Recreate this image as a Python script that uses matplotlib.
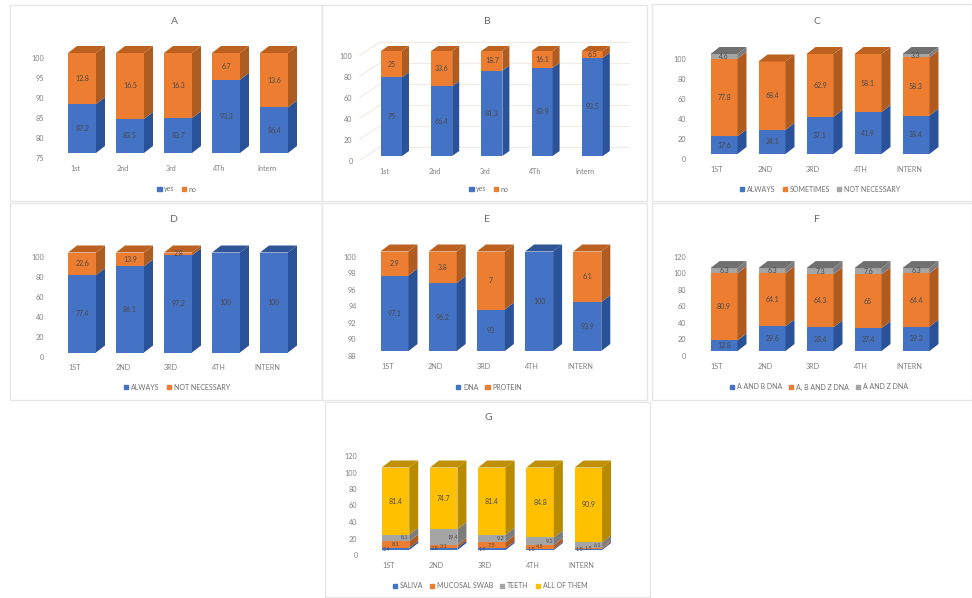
import matplotlib
matplotlib.use("Agg")
import matplotlib.pyplot as plt
from matplotlib.patches import Patch, Rectangle
from matplotlib.transforms import ScaledTranslation

W, H = 972, 598
BLUE = ("#4472C4", "#2A5298", "#2F5597")
ORANGE = ("#ED7D31", "#B05C20", "#BC611F")
GREY = ("#A5A5A5", "#7C7C7C", "#707070")
GOLD = ("#FFC000", "#B88A00", "#C09000")

lower_years = ["1st", "2nd", "3rd", "4Th", "Intern"]
upper_years = ["1ST", "2ND", "3RD", "4TH", "INTERN"]

a_yes = [87.2, 83.5, 83.7, 93.3, 86.4]
a_no = [12.8, 16.5, 16.3, 6.7, 13.6]

b_yes = [75, 66.4, 81.3, 83.9, 93.5]
b_no = [25, 33.6, 18.7, 16.1, 6.5]

c_always = [17.6, 24.1, 37.1, 41.9, 38.4]
c_sometimes = [77.8, 68.4, 62.9, 58.1, 58.3]
c_not_necessary = [4.6, 0, 0, 0, 3.3]

d_always = [77.4, 86.1, 97.2, 100, 100]
d_not_necessary = [22.6, 13.9, 2.8, 0, 0]

e_dna = [97.1, 96.2, 93, 100, 93.9]
e_protein = [2.9, 3.8, 7, 0, 6.1]

f_ab = [12.8, 29.6, 28.4, 27.4, 29.3]
f_abz = [80.9, 64.1, 64.3, 65, 64.4]
f_az = [6.3, 6.3, 7.3, 7.6, 6.3]

g_saliva = [2.4, 2.8, 1.9, 1.5, 1.5]
g_swab = [8.1, 3.1, 7.5, 4.5, 1.5]
g_teeth = [8.1, 19.4, 9.2, 9.2, 6.1]
g_all = [81.4, 74.7, 81.4, 84.8, 90.9]

ticks_a = [75, 80, 85, 90, 95, 100]
ticks_100 = [0, 20, 40, 60, 80, 100]
ticks_e = [88, 90, 92, 94, 96, 98, 100]
ticks_120 = [0, 20, 40, 60, 80, 100, 120]

plt.rcParams["font.family"] = ["Lato", "DejaVu Sans"]

fig = plt.figure(figsize=(W / 100, H / 100), dpi=100, facecolor="white")


def frame(left, top, right, bottom):
    fig.add_artist(Rectangle((left / W, 1 - bottom / H), (right - left) / W, (bottom - top) / H,
                             transform=fig.transFigure, fill=False, ec="#E6E6E6", lw=1))


def panel(title, title_x, title_y, center0, step, width, y_bottom, y_top, ylim, ticks, cats,
          series, names, colors, depth, legend_xy, walls=False, thin=None):
    left = center0 - step / 2
    ax = fig.add_axes([left / W, 1 - y_bottom / H, 5 * step / W, (y_bottom - y_top) / H])
    ax.patch.set_alpha(0)
    ax.set_xlim(-0.5, 4.5)
    ax.set_ylim(*ylim)
    for s in ax.spines.values():
        s.set_visible(False)

    w = width / step
    dx = depth[0] / step
    dy = depth[1] * (ylim[1] - ylim[0]) / (y_bottom - y_top)

    if walls:
        for t in ticks:
            ax.plot([-0.63, -0.23], [t - 4, t + 8.5], color="#F0EBE3", lw=0.8, clip_on=False, zorder=0)
            ax.plot([-0.23, 4.73], [t + 8.5, t + 8.5], color="#F0EBE3", lw=0.8, clip_on=False, zorder=0)

    x = list(range(5))
    bottoms = [ylim[0]] * 5
    tops = [None] * 5
    for n, (vals, col) in enumerate(zip(series, colors)):
        # the first segment starts at the axis floor, which is not always zero
        heights = [v - (ylim[0] if b == ylim[0] else 0) for v, b in zip(vals, bottoms)]
        bars = ax.bar(x, heights, w, bottom=bottoms, color=col[0], zorder=3)
        labels = ax.bar_label(bars, labels=[f"{v:g}" if v > 0 else "" for v in vals], label_type="center",
                              fontsize=5, color="#4A4A4A", zorder=5)
        # thin stacked bands get smaller labels spread across the bar
        if thin and n < len(thin):
            for lab in labels:
                lab.set_fontsize(4)
                lab.xyann = (thin[n], lab.xyann[1])
        for i, h in enumerate(heights):
            if h <= 0:
                continue
            y0, y1 = bottoms[i], bottoms[i] + h
            r = i + w / 2
            ax.fill([r, r + dx, r + dx, r], [y0, y0 + dy, y1 + dy, y1], color=col[1], lw=0,
                    clip_on=False, zorder=3)
            tops[i] = (y1, col[2])
        bottoms = [b + h for b, h in zip(bottoms, heights)]
    for i, (y1, col) in enumerate(tops):
        l, r = i - w / 2, i + w / 2
        ax.fill([l, r, r + dx, l + dx], [y1, y1, y1 + dy, y1 + dy], color=col, lw=0,
                clip_on=False, zorder=3)

    ax.set_xticks(x, cats)
    ax.set_yticks(ticks)
    ax.tick_params(axis="both", length=0, labelsize=5.2, labelcolor="#808080")
    ax.tick_params(axis="y", pad=10)
    ax.tick_params(axis="x", pad=8.5)
    for lab in ax.get_yticklabels():
        lab.set_transform(lab.get_transform() + ScaledTranslation(0, -0.05, fig.dpi_scale_trans))
    for lab in ax.get_xticklabels():
        lab.set_transform(lab.get_transform() + ScaledTranslation(-0.07, 0, fig.dpi_scale_trans))

    fig.text(title_x / W, 1 - title_y / H, title, ha="center", va="center", fontsize=7.5, color="#6B6B6B")
    handles = [Patch(color=c[0], label=n) for c, n in zip(colors, names)]
    ax.legend(handles=handles, ncol=len(handles), loc="center", frameon=False, fontsize=5,
              labelcolor="#707070", handlelength=0.6, handleheight=0.6, handletextpad=0.4,
              columnspacing=1.0, bbox_to_anchor=(legend_xy[0] / W, 1 - legend_xy[1] / H),
              bbox_transform=fig.transFigure, borderaxespad=0, borderpad=0)


for box in [(10, 5, 322, 201), (322, 5, 647, 201), (652, 4, 972, 201),
            (10, 203, 322, 400), (322, 203, 647, 400), (652, 203, 972, 400),
            (325, 402, 650, 597)]:
    frame(*box)

panel("A", 174, 21, 82, 48, 28, 153, 53, (75, 100), ticks_a, lower_years,
      [a_yes, a_no], ["yes", "no"], [BLUE, ORANGE], (9, 7), (177, 189))
panel("B", 487, 21, 391.5, 50.2, 21, 156, 51, (0, 100), ticks_100, lower_years,
      [b_yes, b_no], ["yes", "no"], [BLUE, ORANGE], (7, 5), (489, 189), walls=True)
panel("C", 817, 21, 724, 48, 27, 154, 54, (0, 100), ticks_100, upper_years,
      [c_always, c_sometimes, c_not_necessary], ["ALWAYS", "SOMETIMES", "NOT NECESSARY"],
      [BLUE, ORANGE, GREY], (9, 7), (820, 189))
panel("D", 174, 219, 82, 48, 28, 352.5, 252.5, (0, 100), ticks_100, upper_years,
      [d_always, d_not_necessary], ["ALWAYS", "NOT NECESSARY"], [BLUE, ORANGE], (9, 7), (177, 387))
panel("E", 487, 219, 394.5, 48.2, 28, 351, 251.5, (88, 100), ticks_e, upper_years,
      [e_dna, e_protein], ["DNA", "PROTEIN"], [BLUE, ORANGE], (9, 7), (489, 387))
panel("F", 817, 219, 724, 48, 27, 351, 251.5, (0, 120), ticks_120, upper_years,
      [f_ab, f_abz, f_az], ["A AND B DNA", "A, B AND Z DNA", "A AND Z DNA"],
      [BLUE, ORANGE, GREY], (9, 7), (819, 387))
panel("G", 488, 418, 395.5, 48.2, 27.5, 550, 451, (0, 120), ticks_120, upper_years,
      [g_saliva, g_swab, g_teeth, g_all], ["SALIVA", "MUCOSAL SWAB", "TEETH", "ALL OF THEM"],
      [BLUE, ORANGE, GREY, GOLD], (9, 7), (490, 586), thin=[-6.5, 0, 6.5])

fig.savefig("out.png", dpi=100)
